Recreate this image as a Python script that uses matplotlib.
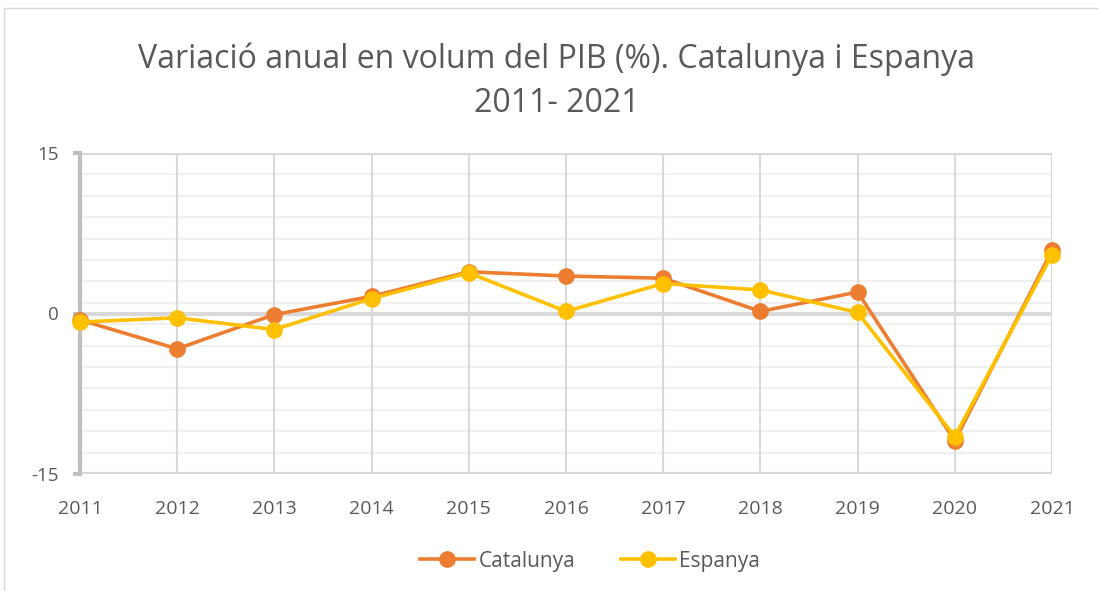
import matplotlib
matplotlib.use("Agg")
import matplotlib.pyplot as plt
from matplotlib.patches import Rectangle

years = [2011, 2012, 2013, 2014, 2015, 2016, 2017, 2018, 2019, 2020, 2021]
catalunya = [-0.6, -3.3, -0.1, 1.6, 3.9, 3.5, 3.3, 0.2, 2.0, -11.9, 5.9]
espanya = [-0.8, -0.4, -1.5, 1.4, 3.8, 0.2, 2.8, 2.2, 0.1, -11.5, 5.5]
y_ticks = [-15, 0, 15]
minor_ticks = [-13, -11, -9, -7, -5, -3, -1, 1, 3, 5, 7, 9, 11, 13]

plt.rcParams['font.family'] = ['Open Sans', 'DejaVu Sans']

fig = plt.figure(figsize=(10.99, 5.91), dpi=100)
fig.patch.set_facecolor('white')
fig.add_artist(Rectangle((4/1099, -0.02), 1.1, 1 - 8/591 + 0.02, transform=fig.transFigure,
                         fill=False, edgecolor='#d9d9d9', linewidth=1))

ax = fig.add_axes([80/1099, 1 - 474/591, (1052 - 80)/1099, (474 - 153)/591])
ax.set_xlim(years[0], years[-1])
ax.set_ylim(-15, 15)

ax.set_yticks(y_ticks)
ax.set_yticklabels([str(v) for v in y_ticks])
ax.set_yticks(minor_ticks, minor=True)
ax.set_xticks(years)
ax.set_xticklabels([str(y) for y in years])

for v in minor_ticks:
    ax.axhline(v, color='#f0f0f0', linewidth=1.5, zorder=0)
for v in y_ticks:
    ax.axhline(v, color='#d9d9d9', linewidth=3, zorder=1)
for x in years[1:]:
    ax.axvline(x, color='#d9d9d9', linewidth=1.5, zorder=1)

for s in ['top', 'right', 'bottom']:
    ax.spines[s].set_visible(False)
ax.spines['left'].set_color('#bfbfbf')
ax.spines['left'].set_linewidth(3)
ax.spines['left'].set_zorder(2)

ax.tick_params(axis='y', which='major', length=5, width=3, color='#bfbfbf',
               labelsize=13.5, labelcolor='#595959', pad=10)
ax.tick_params(axis='y', which='minor', length=0)
ax.tick_params(axis='x', length=0, labelsize=14, labelcolor='#595959', pad=19)

ax.plot(years, catalunya, color='#ED7D31', linewidth=2.6, marker='o', markersize=11,
        label='Catalunya', zorder=3, clip_on=False)
ax.plot(years, espanya, color='#FFC000', linewidth=2.6, marker='o', markersize=11,
        label='Espanya', zorder=4, clip_on=False)

fig.text(557/1099, 1 - 59/591, 'Variació anual en volum del PIB (%). Catalunya i Espanya',
         ha='center', va='center', fontsize=23, color='#595959', fontweight='normal')
fig.text(557/1099, 1 - 104/591, '2011- 2021',
         ha='center', va='center', fontsize=23, color='#595959', fontweight='normal')

leg = fig.legend(loc='center', bbox_to_anchor=(590/1099, 1 - 561/591), ncol=2, frameon=False,
                 fontsize=15, handlelength=2.6, columnspacing=2.2, handletextpad=0.2)
for t in leg.get_texts():
    t.set_color('#595959')

fig.savefig('out.png', dpi=100, facecolor='white')
